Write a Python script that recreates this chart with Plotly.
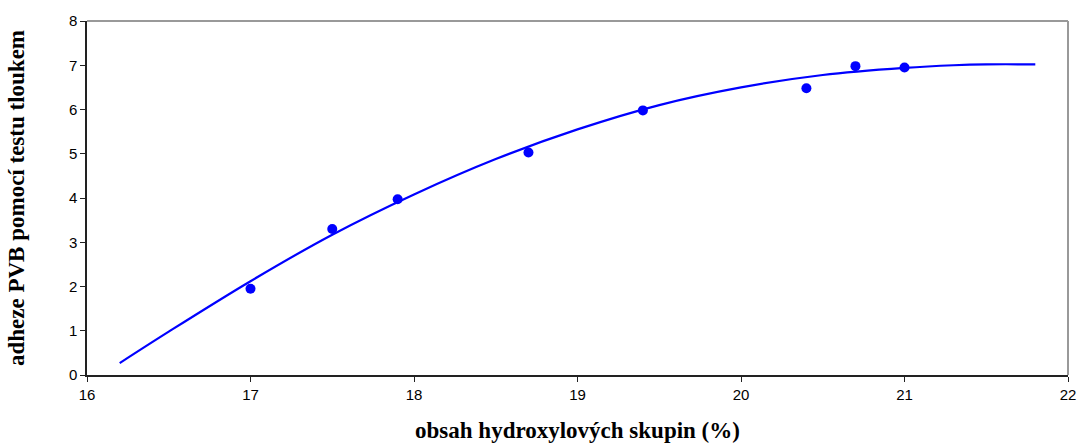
import plotly.graph_objects as go

# measured points
x_pts = [17.0, 17.5, 17.9, 18.7, 19.4, 20.4, 20.7, 21.0]
y_pts = [1.95, 3.3, 3.97, 5.03, 5.98, 6.48, 6.98, 6.95]

# trend curve
x_fit = [16.2, 16.5, 17.0, 17.5, 18.0, 18.5, 19.0, 19.5, 20.0, 20.5, 21.0, 21.3, 21.5, 21.8]
y_fit = [0.27, 0.98, 2.12, 3.17, 4.08, 4.88, 5.55, 6.1, 6.5, 6.78, 6.94, 7.0, 7.02, 7.02]

x_ticks = [16, 17, 18, 19, 20, 21, 22]
y_ticks = [0, 1, 2, 3, 4, 5, 6, 7, 8]

fig = go.Figure()
fig.add_trace(go.Scatter(x=x_fit, y=y_fit, mode="lines",
                         line=dict(color="#0000FF", width=2.2, shape="spline"),
                         hoverinfo="skip", showlegend=False))
fig.add_trace(go.Scatter(x=x_pts, y=y_pts, mode="markers",
                         marker=dict(color="#0000FF", size=10),
                         showlegend=False))

fig.update_layout(
    width=1083, height=443,
    margin=dict(l=87, r=15, t=21, b=68),
    paper_bgcolor="white", plot_bgcolor="white",
    font=dict(family="Liberation Sans, Arial", size=15, color="black"),
    xaxis=dict(range=[16, 22], tickvals=x_ticks, showgrid=False, zeroline=False,
               showline=True, linecolor="#222", linewidth=1.5, automargin=False,
               ticks="outside", ticklen=5, tickcolor="#222",
               title=dict(text="<b>obsah hydroxylových skupin (%)</b>",
                          font=dict(family="Liberation Serif, Times New Roman", size=23),
                          standoff=22)),
    yaxis=dict(range=[0, 8], tickvals=y_ticks, showgrid=False, zeroline=False,
               showline=True, linecolor="#222", linewidth=1.5, automargin=False,
               ticks="outside", ticklen=5, tickcolor="#222",
               title=dict(text="<b>adheze PVB pomocí testu tloukem</b>",
                          font=dict(family="Liberation Serif, Times New Roman", size=23),
                          standoff=38)),
    shapes=[
        dict(type="line", xref="paper", yref="paper", x0=0, x1=1, y0=1, y1=1,
             line=dict(color="#999999", width=2)),
        dict(type="line", xref="paper", yref="paper", x0=1, x1=1, y0=0, y1=1,
             line=dict(color="#999999", width=2)),
    ],
)

fig.write_html("out.html")
